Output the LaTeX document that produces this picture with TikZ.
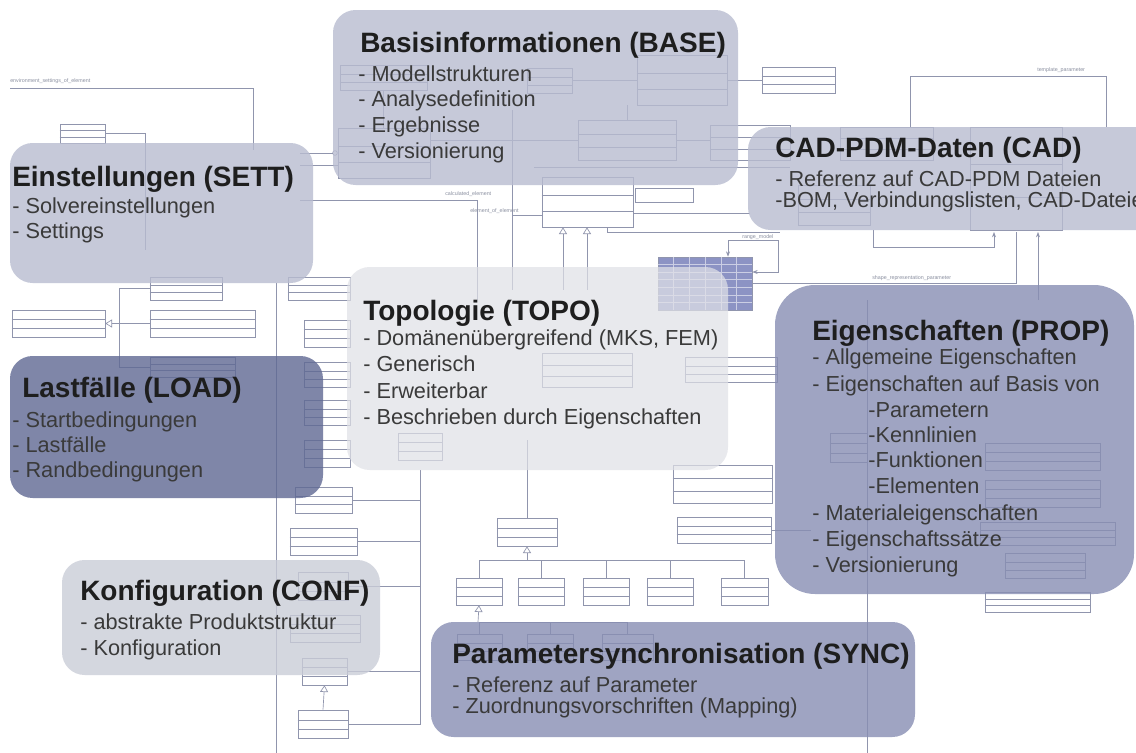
\documentclass[tikz,border=0pt]{standalone}
\usepackage{fontspec}
\setmainfont{Liberation Sans}
\usetikzlibrary{fit,calc,arrows.meta}
\definecolor{umlc}{HTML}{9095AD}
\definecolor{umlt}{HTML}{8A8FA0}
\definecolor{gridc}{HTML}{8C93C4}
\definecolor{baseC}{HTML}{B8BCD0}
\definecolor{topoC}{HTML}{E0E1E7}
\definecolor{loadC}{HTML}{5F6893}
\definecolor{propC}{HTML}{888EB3}
\definecolor{confC}{HTML}{CACDD8}
\definecolor{titleC}{HTML}{1E1E1E}
\definecolor{itemC}{HTML}{3A3A3A}
\newcommand{\umlclass}[5]{%
  \node[cls, fit={(#2,#3) (#4,#5)}] (#1) {};
  \draw[wire] ($(#1.north west)!0.36!(#1.south west)$) -- ($(#1.north east)!0.36!(#1.south east)$);
  \draw[wire] ($(#1.north west)!0.68!(#1.south west)$) -- ($(#1.north east)!0.68!(#1.south east)$);
}
\tikzset{
  cls/.style={draw=umlc, fill=white, line width=0.5pt, inner sep=0pt},
  wire/.style={draw=umlc, line width=0.5pt},
  inh/.style={wire, -{Triangle[open, length=5pt, width=6pt]}},
  tinylbl/.style={font=\fontsize{4}{5}\selectfont, text=umlt, inner sep=0pt, anchor=base west},
  panel/.style={rounded corners=17pt, fill opacity=0.8, inner sep=0pt, draw=none},
  ttl/.style={font=\fontsize{21}{25}\selectfont\bfseries, text=titleC, anchor=base west, inner sep=0pt},
  itm/.style={font=\fontsize{16.3}{19}\selectfont, text=itemC, anchor=base west, inner sep=0pt},
  gridl/.style={draw=white!55!gridc, line width=0.4pt}
}
\begin{document}
\begin{tikzpicture}[x=0.75pt, y=-0.75pt]
\useasboundingbox (0,0) rectangle (1136,753);
\fill[white] (0,0) rectangle (1136,753);

% ---------- background UML diagram ----------
\umlclass{settmesh}{60}{124}{105}{143}
\umlclass{bA}{340}{65}{427}{90}
\umlclass{bB}{527}{68}{572}{93}
\umlclass{bC}{637}{55}{727}{105}
\umlclass{bD}{578}{120}{676}{160}
\umlclass{bE}{710}{125}{790}{160}
\umlclass{bF}{338}{128}{430}{178}
\umlclass{cstd}{762}{67}{835}{93}
\umlclass{topoel}{542}{177}{633}{227}
\node[cls, fit={(635,188) (693,202)}] (smallm) {};
\umlclass{cA}{840}{127}{933}{160}
\umlclass{cB}{798}{185}{870}{225}
\umlclass{cC}{970}{127}{1062}{230}
\umlclass{s2}{150}{277}{222}{300}
\umlclass{ssolv}{12}{310}{105}{337}
\umlclass{suser}{150}{310}{255}{337}
\umlclass{ssol}{150}{357}{235}{377}
\umlclass{sud}{288}{277}{350}{300}
\umlclass{t1}{304}{320}{350}{347}
\umlclass{t2}{304}{362}{350}{387}
\umlclass{t3}{304}{400}{350}{425}
\umlclass{t4}{304}{440}{350}{467}
\umlclass{t5}{295}{487}{352}{513}
\umlclass{t6}{290}{528}{357}{555}
\umlclass{t7}{298}{572}{348}{600}
\umlclass{t8}{290}{615}{360}{642}
\umlclass{t9}{302}{658}{347}{685}
\umlclass{t10}{298}{710}{348}{738}
\umlclass{toporel}{497}{518}{557}{546}
\umlclass{k1}{456}{578}{502}{605}
\umlclass{k2}{518}{578}{564}{605}
\umlclass{k3}{583}{578}{629}{605}
\umlclass{k4}{647}{578}{693}{605}
\umlclass{k5}{721}{578}{768}{605}
\umlclass{y1}{457}{634}{502}{660}
\umlclass{y2}{527}{634}{573}{660}
\umlclass{y3}{602}{634}{653}{660}
\umlclass{pset}{673}{465}{772}{503}
\umlclass{prel}{677}{517}{771}{543}
\umlclass{pbsp}{985}{592}{1090}{612}
\umlclass{tin1}{542}{353}{632}{387}
\umlclass{tin2}{685}{357}{777}{382}
\umlclass{tin3}{398}{433}{442}{460}
\umlclass{pA}{985}{443}{1100}{470}
\umlclass{pB}{985}{480}{1100}{507}
\umlclass{pC}{980}{522}{1115}{545}
\umlclass{pD}{1005}{553}{1085}{578}
\umlclass{pE}{830}{433}{867}{462}

% grid class
\node[draw=umlc, fill=gridc, line width=0.5pt, inner sep=0pt, fit={(658,257) (752,310)}] (grid) {};
\foreach \i in {1,...,5}
  \draw[gridl] ($(grid.north west)!\i/6!(grid.north east)$) -- ($(grid.south west)!\i/6!(grid.south east)$);
\foreach \j in {1,...,6}
  \draw[gridl] ($(grid.north west)!\j/7!(grid.south west)$) -- ($(grid.north east)!\j/7!(grid.south east)$);

% coordinates for free ends
\coordinate (envA) at (10,88);
\coordinate (envB) at (253,150);
\coordinate (smB) at (145,250);
\coordinate (sbA) at (300,153);
\coordinate (sbB) at (300,165);
\coordinate (calA) at (300,200);
\coordinate (calB) at (477,300);
\coordinate (eoe) at (512,215);
\coordinate (vA) at (512,110);
\coordinate (vB) at (512,290);
\coordinate (tplA) at (910,127);
\coordinate (tplB) at (1106,76);
\coordinate (tplC) at (1106,127);
\coordinate (rngA) at (728,240);
\coordinate (rngB) at (778,240);
\coordinate (rngC) at (778,272);
\coordinate (srA) at (1016,232);
\coordinate (srB) at (1016,283);
\coordinate (srC) at (1038,232);
\coordinate (srD) at (1038,300);
\coordinate (loopA) at (873,230);
\coordinate (loopB) at (994,247);
\coordinate (loopC) at (994,232);
\coordinate (vl) at (119,367);
\coordinate (longA) at (276,283);
\coordinate (longB) at (276,753);
\coordinate (rv) at (420,470);
\coordinate (rvB) at (420,725);
\coordinate (kbar) at (527,560);
\coordinate (ybar) at (478,622);
\coordinate (topb) at (527,440);
\coordinate (pv1) at (867,300);
\coordinate (pv2) at (867,753);
\coordinate (bl) at (534,167);
\coordinate (br) at (790,167);
\coordinate (ta1) at (563,290);
\coordinate (ta2) at (587,290);
\coordinate (conA) at (750,213);
\coordinate (shA) at (607,227);
\coordinate (shB) at (780,232);

% connectors
\draw[wire] (envA) -| (envB);
\draw[wire] (settmesh.east) -| (smB);
\draw[wire, -{Circle[open, length=4pt]}] (sbA) -- (sbA -| bF.west);
\draw[wire] (sbB) -- (sbB -| bF.west);
\draw[wire] (calA) -| (calB);
\draw[wire] (vA) -- (vB);
\draw[wire] (eoe) -- (eoe -| topoel.west);
\draw[wire, {Triangle[open, length=5pt, width=6pt]}-] (topoel.south -| ta1) -- (ta1);
\draw[wire, {Triangle[open, length=5pt, width=6pt]}-] (topoel.south -| ta2) -- (ta2);
\draw[wire] (topoel.east |- conA) -- (conA);
\draw[wire] (shA) |- (shB);
\draw[wire] (bC.east) -- (cstd.west);
\draw[wire] (bB.east) -- (bB.east -| bC.west);
\draw[wire] (bD.north) -- (bD.north |- bC.south);
\draw[wire] (bF.east |- bD.west) -- (bD.west);
\draw[wire] (bD.east) -- (bD.east -| bE.west);
\draw[wire] (bA.south) -- (bA.south |- bF.north);
\draw[wire] (bl) -- (br);
\draw[wire] (tplA) |- (tplB) -- (tplC);
\draw[wire, {Stealth[length=4pt]}-{Stealth[length=4pt]}] (grid.north -| rngA) -- (rngA) -- (rngB) -- (rngC) -- (rngC -| grid.east);
\draw[wire] (grid.east |- srB) -- (srB) -- (srA);
\draw[wire, -{Stealth[length=4pt]}] (srD) -- (srC);
\draw[wire, -{Stealth[length=4pt]}] (loopA) |- (loopB) -- (loopC);
\draw[wire] (s2.west) -| (vl) -- (ssol.west);
\draw[inh] (suser.west) -- (ssolv.east);
\draw[wire] (longA) -- (longB);
\draw[wire] (rv) -- (rvB);
\foreach \n in {t5,t6,t7,t9,t10} \draw[wire] (\n.east) -- (\n.east -| rv);
\draw[inh] (t10.north) -- (t9.south);
\draw[wire] (toporel.north) -- (topb);
\draw[inh] (kbar) -- (toporel.south);
\draw[wire] (k1.north) -- (k1.north |- kbar) -- (k5.north |- kbar) -- (k5.north);
\foreach \n in {k2,k3,k4} \draw[wire] (\n.north) -- (\n.north |- kbar);
\draw[inh] (ybar) -- (k1.south);
\draw[wire] (y1.north) -- (y1.north |- ybar) -- (y3.north |- ybar) -- (y3.north);
\draw[wire] (y2.north) -- (y2.north |- ybar);
\draw[wire] (prel.east) -- ++(40,0);
\draw[wire] (pv1) -- (pv2);

% small connector labels
\node[tinylbl] (lenv) at (10,82) {environment\_settings\_of\_element};
\node[tinylbl] (lcal) at (445,195) {calculated\_element};
\node[tinylbl] (leoe) at (470,212) {element\_of\_element};
\node[tinylbl] (ltpl) at (1037,71) {template\_parameter};
\node[tinylbl] (lsr) at (872,279) {shape\_representation\_parameter};
\node[tinylbl] (lrng) at (742,238) {range\_model};

% ---------- overlay panels ----------
\node[panel, fill=baseC, fit={(333,10) (738,185)}] (base) {};
\node[panel, fill=baseC, fit={(10,143) (313,283)}] (sett) {};
\node[panel, fill=baseC, fit={(748,127) (1175,230)}] (cad) {};
\node[panel, fill=topoC, fill opacity=0.72, fit={(347,267) (728,470)}] (topo) {};
\node[panel, fill=loadC, fit={(10,356) (323,498)}] (load) {};
\node[panel, fill=propC, rounded corners=30pt, fit={(775,285) (1134,594)}] (prop) {};
\node[panel, fill=confC, fit={(62,560) (380,675)}] (conf) {};
\node[panel, fill=propC, fit={(431,622) (915,737)}] (sync) {};

% ---------- panel texts ----------
\node[ttl] (baseT) at (360,52) {Basisinformationen (BASE)};
\node[itm] (base1) at (358,81) {- Modellstrukturen};
\node[itm] (base2) at (358,106) {- Analysedefinition};
\node[itm] (base3) at (358,132) {- Ergebnisse};
\node[itm] (base4) at (358,158) {- Versionierung};

\node[ttl] (settT) at (12,186) {Einstellungen (SETT)};
\node[itm] (sett1) at (12,213) {- Solvereinstellungen};
\node[itm] (sett2) at (12,238) {- Settings};

\node[ttl] (cadT) at (775,157) {CAD-PDM-Daten (CAD)};
\node[itm] (cad1) at (775,186) {- Referenz auf CAD-PDM Dateien};
\node[itm] (cad2) at (775,207) {-BOM, Verbindungslisten, CAD-Dateien};

\node[ttl] (topoT) at (363,320) {Topologie (TOPO)};
\node[itm] (topo1) at (363,345) {- Domänenübergreifend (MKS, FEM)};
\node[itm] (topo2) at (363,371) {- Generisch};
\node[itm] (topo3) at (363,398) {- Erweiterbar};
\node[itm] (topo4) at (363,424) {- Beschrieben durch Eigenschaften};

\node[ttl] (loadT) at (22,397) {Lastfälle (LOAD)};
\node[itm] (load1) at (12,427) {- Startbedingungen};
\node[itm] (load2) at (12,452) {- Lastfälle};
\node[itm] (load3) at (12,477) {- Randbedingungen};

\node[ttl] (propT) at (812,340) {Eigenschaften (PROP)};
\node[itm] (prop1) at (812,364) {- Allgemeine Eigenschaften};
\node[itm] (prop2) at (812,391) {- Eigenschaften auf Basis von};
\node[itm] (prop3) at (868,417) {-Parametern};
\node[itm] (prop4) at (868,442) {-Kennlinien};
\node[itm] (prop5) at (868,467) {-Funktionen};
\node[itm] (prop6) at (868,493) {-Elementen};
\node[itm] (prop7) at (812,520) {- Materialeigenschaften};
\node[itm] (prop8) at (812,546) {- Eigenschaftssätze};
\node[itm] (prop9) at (812,572) {- Versionierung};

\node[ttl] (confT) at (80,600) {Konfiguration (CONF)};
\node[itm] (conf1) at (80,629) {- abstrakte Produktstruktur};
\node[itm] (conf2) at (80,655) {- Konfiguration};

\node[ttl] (syncT) at (452,663) {Parametersynchronisation (SYNC)};
\node[itm] (sync1) at (452,692) {- Referenz auf Parameter};
\node[itm] (sync2) at (452,713) {- Zuordnungsvorschriften (Mapping)};
\end{tikzpicture}
\end{document}
